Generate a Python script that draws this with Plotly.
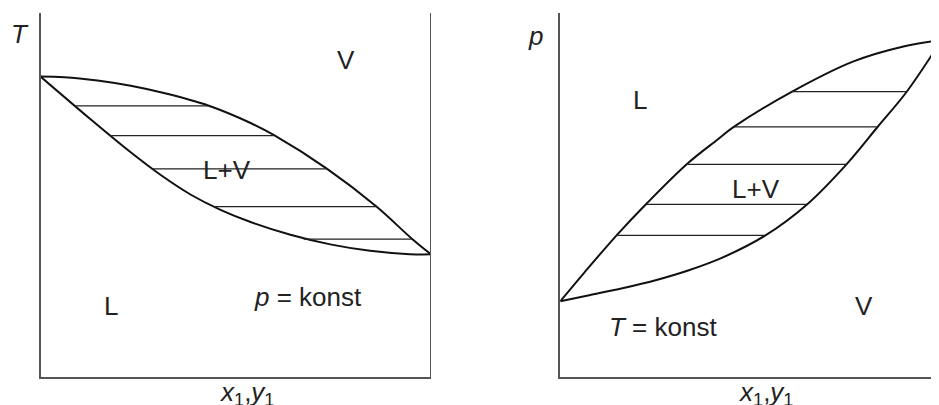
import plotly.graph_objects as go

# the page puts an 8 px body margin around the figure, so the figure is drawn
# 8 px smaller and every pixel position below is shifted by OFF
OFF = 8
W, H = 939 - OFF, 405 - OFF

# left: T-x,y diagram at p = konst (x1 from 0 to 1, T in arbitrary units)
tx_vap_x = [0, 0.061, 0.146, 0.231, 0.316, 0.431, 0.538, 0.597, 0.734, 0.861, 0.951, 1.0]
tx_vap_T = [82.55, 82.38, 81.45, 80.0, 78.0, 74.52, 69.78, 66.49, 57.18, 46.77, 38.0, 33.70]
tx_liq_x = [0, 0.129, 0.231, 0.308, 0.384, 0.461, 0.538, 0.640, 0.742, 0.844, 0.946, 1.0]
tx_liq_T = [82.55, 70.74, 61.73, 55.48, 50.14, 45.92, 42.58, 39.07, 36.44, 34.68, 33.75, 33.70]
tx_tie_T = [74.5, 66.3, 57.2, 46.8, 37.9]
tx_tie_liq = [0.088, 0.179, 0.287, 0.445, 0.674]
tx_tie_vap = [0.431, 0.597, 0.734, 0.861, 0.951]

# right: p-x,y diagram at T = konst
px_liq_x = [0, 0.063, 0.150, 0.224, 0.333, 0.412, 0.455, 0.608, 0.769, 0.900, 1.0]
px_liq_p = [20.82, 28.7, 39.2, 47.4, 58.6, 65.2, 68.7, 78.4, 86.7, 90.8, 92.6]
px_vap_x = [0, 0.076, 0.163, 0.250, 0.337, 0.425, 0.538, 0.647, 0.750, 0.832, 0.909, 1.0]
px_vap_p = [20.82, 22.47, 24.38, 26.58, 29.32, 32.79, 38.9, 47.4, 58.36, 68.68, 78.44, 92.6]
px_tie_p = [78.4, 68.7, 58.4, 47.4, 38.9]
px_tie_liq = [0.608, 0.455, 0.334, 0.224, 0.150]
px_tie_vap = [0.909, 0.832, 0.750, 0.647, 0.538]

CURVE = dict(color='#111111', width=2, shape='spline')
TIE = dict(color='#222222', width=1.2)
AXC = '#555555'
FONT = dict(family='Liberation Sans, Arial', size=26, color='#222222')


def ties(levels, a, b):
    xs, ys = [], []
    for lv, x0, x1 in zip(levels, a, b):
        xs += [x0, x1, None]
        ys += [lv, lv, None]
    return xs, ys


fig = go.Figure()
fig.add_trace(go.Scatter(x=tx_vap_x, y=tx_vap_T, mode='lines', line=CURVE))
fig.add_trace(go.Scatter(x=tx_liq_x, y=tx_liq_T, mode='lines', line=CURVE))
tx, ty = ties(tx_tie_T, tx_tie_liq, tx_tie_vap)
fig.add_trace(go.Scatter(x=tx, y=ty, mode='lines', line=TIE))

fig.add_trace(go.Scatter(x=px_liq_x, y=px_liq_p, mode='lines', line=CURVE,
                         xaxis='x2', yaxis='y2'))
fig.add_trace(go.Scatter(x=px_vap_x, y=px_vap_p, mode='lines', line=CURVE,
                         xaxis='x2', yaxis='y2'))
tx, ty = ties(px_tie_p, px_tie_liq, px_tie_vap)
fig.add_trace(go.Scatter(x=tx, y=ty, mode='lines', line=TIE,
                         xaxis='x2', yaxis='y2'))


def fx(x):
    return (x - OFF) / W


def fy(y):
    return 1 - (y - OFF) / H


ax = dict(showline=True, linecolor=AXC, linewidth=2, showgrid=False,
          zeroline=False, showticklabels=False, ticks='', fixedrange=True)
ydom = [fy(377), fy(13)]

# right-hand border of the T-x diagram
fig.add_shape(type='line', xref='x', yref='y', x0=1, x1=1, y0=0, y1=100,
              line=dict(color=AXC, width=2))

labels = [
    ('<i>T</i>', 19.5, 33.7),
    ('V', 345.5, 59.7),
    ('L+V', 226.7, 169.5),
    ('L', 110.8, 306.3),
    ('<i>p</i> = konst', 308, 296.7),
    ('<i>p</i>', 535, 35.5),
    ('L', 640.3, 100),
    ('L+V', 756, 189.2),
    ('V', 864, 306.3),
    ('<i>T</i> = konst', 663.3, 326.7),
]
ann = []
for t, x, y in labels:
    ann.append(dict(text=t, showarrow=False, xanchor='center', yanchor='middle',
                    font=FONT, x=fx(x), y=fy(y), xref='paper', yref='paper'))
for x in (246.7, 765):
    ann.append(dict(text='<i>x</i><sub>1</sub>,<i>y</i><sub>1</sub>', showarrow=False,
                    xanchor='center', yanchor='top', font=FONT,
                    x=fx(x), y=fy(375), xref='paper', yref='paper'))

fig.update_layout(
    width=W, height=H,
    margin=dict(l=0, r=0, t=0, b=0),
    paper_bgcolor='white', plot_bgcolor='white',
    showlegend=False,
    xaxis=dict(ax, domain=[fx(40.5), fx(431)], range=[0, 1], anchor='y'),
    yaxis=dict(ax, domain=ydom, range=[0, 100], anchor='x'),
    xaxis2=dict(ax, domain=[fx(560.3), 1], range=[0, 0.9932], anchor='y2'),
    yaxis2=dict(ax, domain=ydom, range=[0, 100], anchor='x2'),
    annotations=ann,
)

fig.write_html("out.html")
